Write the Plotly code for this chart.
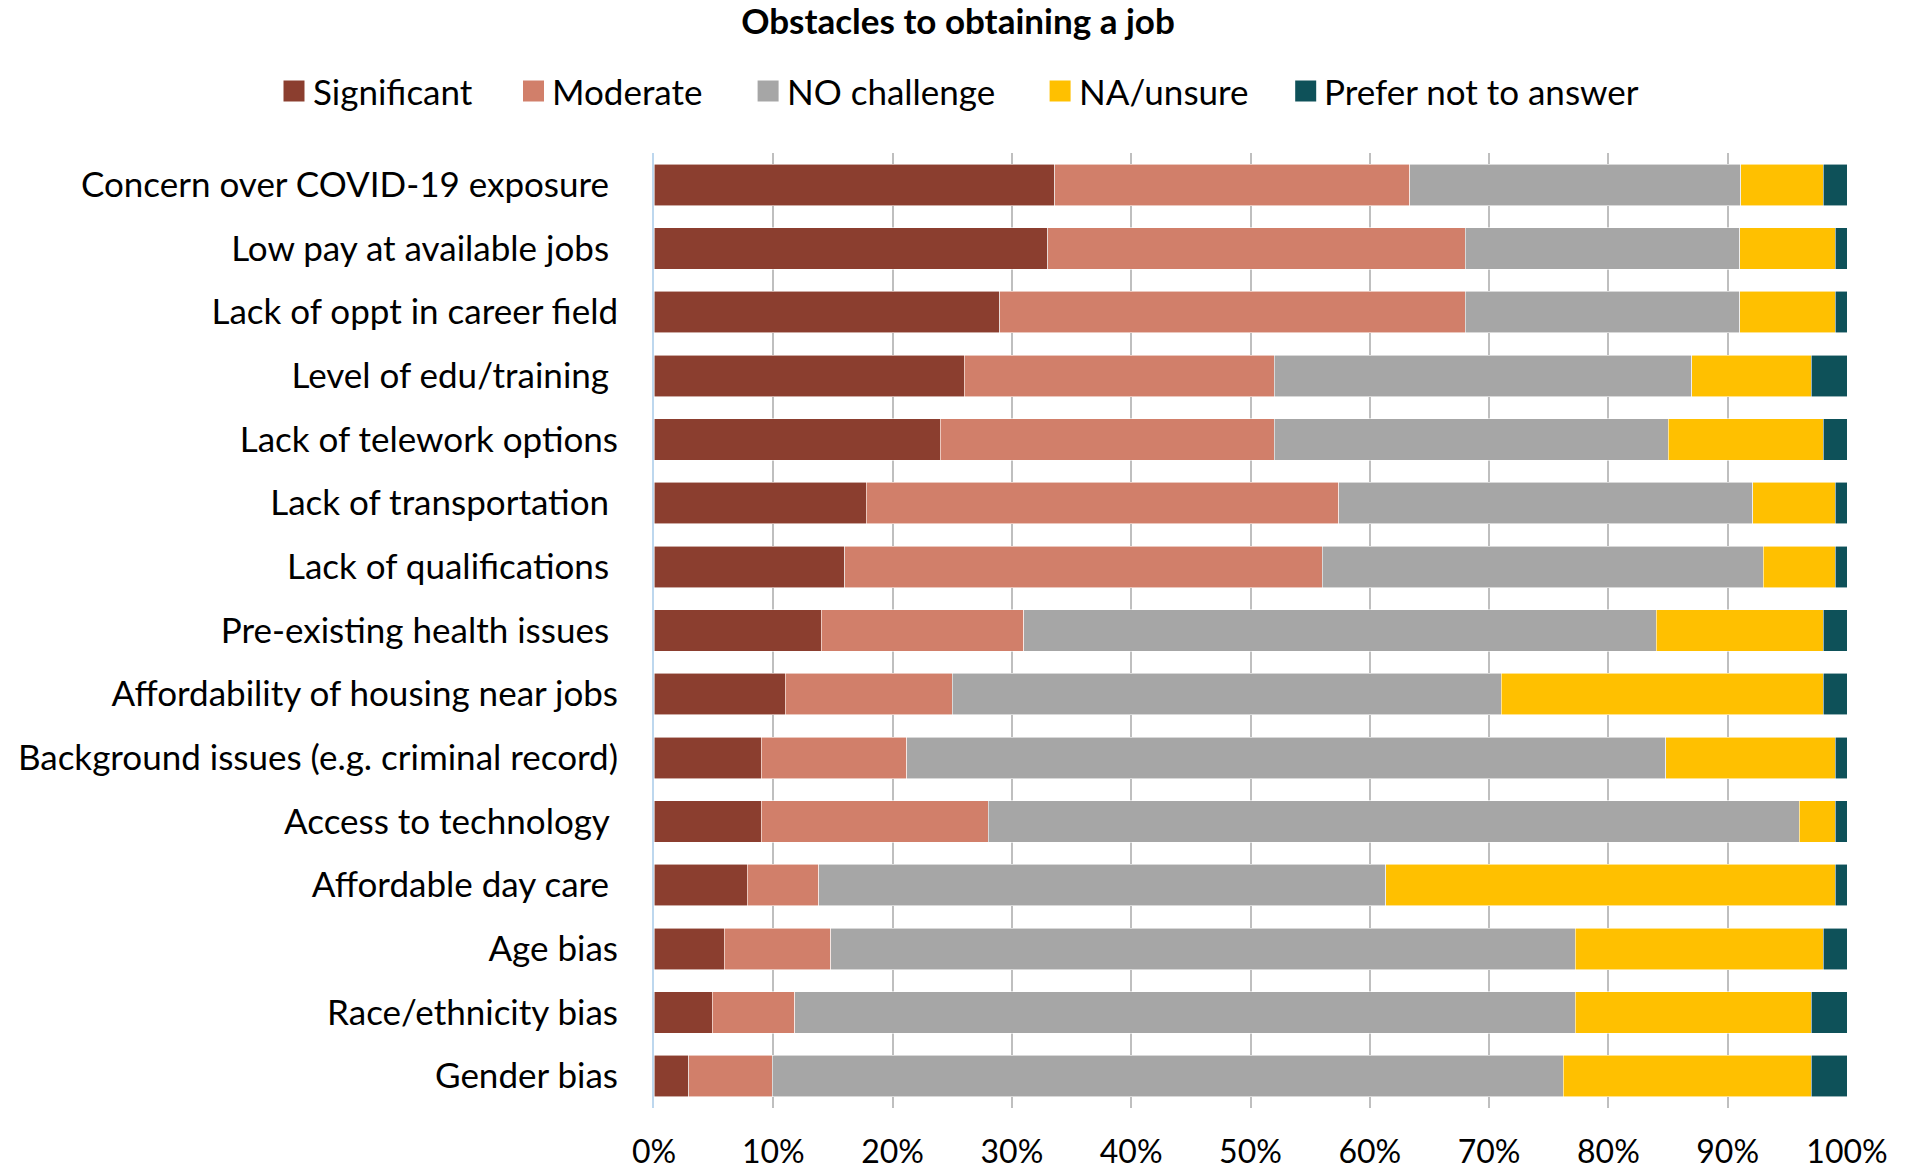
import plotly.graph_objects as go

categories = [
    "Concern over COVID-19 exposure\u00a0",
    "Low pay at available jobs\u00a0",
    "Lack of oppt in career field",
    "Level of edu/training\u00a0",
    "Lack of telework options",
    "Lack of transportation\u00a0",
    "Lack of qualifications\u00a0",
    "Pre-existing health issues\u00a0",
    "Affordability of housing near jobs",
    "Background issues (e.g. criminal record)",
    "Access to technology\u00a0",
    "Affordable day care\u00a0",
    "Age bias",
    "Race/ethnicity bias",
    "Gender bias",
]

significant = [33.6, 33, 29, 26, 24, 17.8, 16, 14, 11, 9, 9, 7.8, 5.9, 4.9, 2.9]
moderate = [29.75, 35, 39, 26, 28, 39.6, 40, 17, 14, 12.2, 19, 6, 8.9, 6.9, 7]
no_challenge = [27.75, 23, 23, 35, 33, 34.7, 37, 53, 46, 63.6, 68, 47.55, 62.4, 65.4, 66.3]
na_unsure = [6.9, 8, 8, 10, 13, 6.9, 6, 14, 27, 14.2, 3, 37.65, 20.8, 19.8, 20.8]
prefer_not = [2, 1, 1, 3, 2, 1, 1, 2, 2, 1, 1, 1, 2, 3, 3]

series_names = ["Significant", "Moderate", "NO challenge", "NA/unsure", "Prefer not to answer"]
series_values = [significant, moderate, no_challenge, na_unsure, prefer_not]
series_colors = ["#8B3E2F", "#D17F6A", "#A6A6A6", "#FFC000", "#0E5159"]

font_family = "Lato, 'Open Sans', sans-serif"

W, H = 1916, 1172
M_L, M_R, M_T, M_B = 654, 69, 153, 64
PW = W - M_L - M_R
PH = H - M_T - M_B

fig = go.Figure()
for name, vals, color in zip(series_names, series_values, series_colors):
    fig.add_trace(go.Bar(
        y=categories,
        x=[v / 100 for v in vals],
        name=name,
        orientation="h",
        showlegend=False,
        marker=dict(color=color, line=dict(color="rgba(255,255,255,0.7)", width=0.8)),
    ))

# Custom legend (Excel-style larger swatches), positioned in pixels -> paper coords
legend_swatch_left = [283.5, 523.0, 757.6, 1049.6, 1295.2]
legend_y_center = 91
sw = 21
for name, color, lx in zip(series_names, series_colors, legend_swatch_left):
    fig.add_shape(
        type="rect", xref="paper", yref="paper",
        x0=(lx - M_L) / PW, x1=(lx + sw - M_L) / PW,
        y0=(H - M_B - (legend_y_center + sw / 2)) / PH,
        y1=(H - M_B - (legend_y_center - sw / 2)) / PH,
        fillcolor=color, line=dict(width=0),
    )
    fig.add_annotation(
        xref="paper", yref="paper",
        x=(lx + 27 - M_L) / PW, y=(H - M_B - legend_y_center) / PH,
        xanchor="left", yanchor="middle",
        text=name, showarrow=False,
        font=dict(size=35, family=font_family, color="black"),
    )

fig.update_layout(
    barmode="stack",
    bargap=0.35,
    width=W,
    height=H,
    paper_bgcolor="white",
    plot_bgcolor="white",
    margin=dict(l=M_L, r=M_R, t=M_T, b=M_B),
    font=dict(family=font_family, color="black", size=35),
    showlegend=False,
    title=dict(
        text="<b>Obstacles to obtaining a job</b>",
        x=0.5, xref="container", xanchor="center",
        y=1 - 22 / H, yref="container", yanchor="middle",
        font=dict(size=35, family=font_family, color="black"),
    ),
    xaxis=dict(
        range=[0, 1],
        tickformat=".0%",
        dtick=0.1,
        showgrid=True,
        gridcolor="#BFBFBF",
        gridwidth=1.5,
        zeroline=False,
        showline=False,
        ticks="",
        ticklabelstandoff=22,
        tickfont=dict(size=32),
        automargin=False,
    ),
    yaxis=dict(
        categoryorder="array",
        categoryarray=categories,
        autorange="reversed",
        showgrid=False,
        showline=True,
        linecolor="#BDD7EE",
        linewidth=2,
        ticks="",
        ticklabelstandoff=27,
        tickfont=dict(size=35),
        automargin=False,
    ),
)

fig.write_html("out.html")
